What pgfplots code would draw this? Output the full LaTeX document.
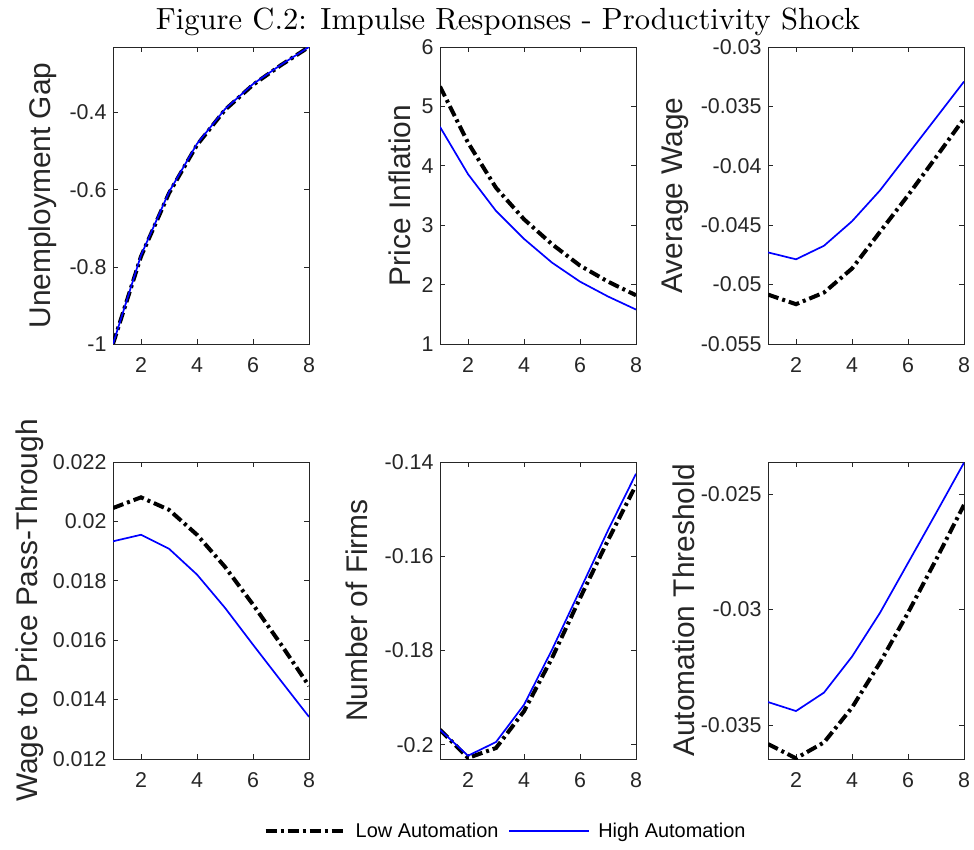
\documentclass[border=0pt]{standalone}
\usepackage{pgfplots}
\pgfplotsset{compat=1.18}
\usepackage{fontspec}
\newfontfamily\arial{Liberation Sans}
\font\titlefont="[lmroman10-regular.otf]" at 30.6bp
\definecolor{axgray}{rgb}{0.15,0.15,0.15}
\newcommand\tickfont{\arial\fontsize{21.5}{21.5}\selectfont}
\newcommand\labfont{\arial\fontsize{30}{30}\selectfont}
\pgfplotsset{
  panel/.style={
    scale only axis, width=196bp, height=297bp,
    xmin=1, xmax=8, xtick={2,4,6,8}, xticklabels={2,4,6,8},
    axis line style={draw=axgray, line width=0.7bp},
    tick style={draw=axgray, line width=0.7bp},
    major tick length=5bp, tick align=inside,
    ticklabel style={font=\tickfont, text=axgray},
    xticklabel style={yshift=-10bp},
    yticklabel style={xshift=-3bp},
    ylabel style={font=\labfont, text=axgray, anchor=center},
    scaled y ticks=false, scaled x ticks=false,
    legend image code/.code={\draw[##1] (0bp,0bp) -- (80bp,0bp);},
  },
  lowa/.style={black, line width=4bp, dash pattern=on 11bp off 4bp on 3bp off 4bp},
  higha/.style={blue, line width=1.7bp},
}
\begin{document}
\begin{tikzpicture}
\useasboundingbox (0,0) rectangle (974bp,-850bp);
\node[anchor=base, inner sep=0pt] at (508bp,-29bp) {\titlefont Figure C.2: Impulse Responses - Productivity Shock};

% Panel 1
\begin{axis}[panel, at={(113bp,-47bp)}, anchor=north west,
  ymin=-1, ymax=-0.23, ytick={-1,-0.8,-0.6,-0.4}, yticklabels={-1,-0.8,-0.6,-0.4},
  ylabel={Unemployment Gap}, ylabel style={at={(axis description cs:-0.357,0.5)}}]
\addplot[lowa] coordinates {(1,-1) (2,-0.773) (3,-0.609) (4,-0.484) (5,-0.393) (6,-0.328) (7,-0.277) (8,-0.23)};
\addplot[higha] coordinates {(1,-1) (2,-0.770) (3,-0.606) (4,-0.481) (5,-0.391) (6,-0.326) (7,-0.276) (8,-0.23)};
\end{axis}

% Panel 2
\begin{axis}[panel, at={(440bp,-47bp)}, anchor=north west,
  ymin=1, ymax=6, ytick={1,2,3,4,5,6}, yticklabels={1,2,3,4,5,6},
  ylabel={Price Inflation}, ylabel style={at={(axis description cs:-0.204,0.5)}}]
\addplot[lowa] coordinates {(1,5.335) (2,4.39) (3,3.63) (4,3.10) (5,2.68) (6,2.32) (7,2.05) (8,1.82)};
\addplot[higha] coordinates {(1,4.655) (2,3.86) (3,3.24) (4,2.77) (5,2.37) (6,2.05) (7,1.80) (8,1.58)};
\end{axis}

% Panel 3
\begin{axis}[panel, at={(768bp,-47bp)}, anchor=north west,
  ymin=-0.055, ymax=-0.03, ytick={-0.055,-0.05,-0.045,-0.04,-0.035,-0.03},
  yticklabels={-0.055,-0.05,-0.045,-0.04,-0.035,-0.03},
  ylabel={Average Wage}, ylabel style={at={(axis description cs:-0.474,0.5)}}]
\addplot[lowa] coordinates {(1,-0.05084) (2,-0.05165) (3,-0.05067) (4,-0.04865) (5,-0.04556) (6,-0.04249) (7,-0.03928) (8,-0.03602)};
\addplot[higha] coordinates {(1,-0.04729) (2,-0.04787) (3,-0.04673) (4,-0.04467) (5,-0.04207) (6,-0.03902) (7,-0.03597) (8,-0.03291)};
\end{axis}

% Panel 4
\begin{axis}[panel, at={(113bp,-462bp)}, anchor=north west,
  ymin=0.012, ymax=0.022, ytick={0.012,0.014,0.016,0.018,0.02,0.022},
  yticklabels={0.012,0.014,0.016,0.018,0.02,0.022},
  ylabel={Wage to Price Pass-Through}, ylabel style={at={(axis description cs:-0.423,0.5)}}]
\addplot[lowa] coordinates {(1,0.02045) (2,0.02081) (3,0.02039) (4,0.01955) (5,0.01847) (6,0.0172) (7,0.01586) (8,0.01446)};
\addplot[higha] coordinates {(1,0.01933) (2,0.01955) (3,0.01908) (4,0.01821) (5,0.01709) (6,0.01585) (7,0.01463) (8,0.01342)};
\end{axis}

% Panel 5
\begin{axis}[panel, at={(440bp,-462bp)}, anchor=north west,
  ymin=-0.20303, ymax=-0.14, ytick={-0.2,-0.18,-0.16,-0.14},
  yticklabels={-0.2,-0.18,-0.16,-0.14},
  ylabel={Number of Firms}, ylabel style={at={(axis description cs:-0.423,0.5)}},
  legend columns=2,
  legend style={draw=none, fill=none, font=\arial\fontsize{20}{20}\selectfont, text=black,
    at={(axis description cs:0.335,-0.242)}, anchor=center,
    /tikz/every odd column/.append style={column sep=6bp},
    /tikz/every even column/.append style={column sep=8bp}}]
\addplot[lowa] coordinates {(1,-0.1968) (2,-0.2028) (3,-0.2007) (4,-0.1929) (5,-0.1816) (6,-0.1689) (7,-0.1566) (8,-0.1449)};
\addlegendentry{Low Automation}
\addplot[higha] coordinates {(1,-0.19683) (2,-0.20233) (3,-0.19943) (4,-0.19153) (5,-0.17985) (6,-0.1672) (7,-0.1545) (8,-0.1425)};
\addlegendentry{High Automation}
\end{axis}

% Panel 6
\begin{axis}[panel, at={(768bp,-462bp)}, anchor=north west,
  ymin=-0.03648, ymax=-0.0236, ytick={-0.035,-0.03,-0.025},
  yticklabels={-0.035,-0.03,-0.025},
  ylabel={Automation Threshold}, ylabel style={at={(axis description cs:-0.43,0.5)}}]
\addplot[lowa] coordinates {(1,-0.03583) (2,-0.03645) (3,-0.03576) (4,-0.03425) (5,-0.0323) (6,-0.03014) (7,-0.02784) (8,-0.02546)};
\addplot[higha] coordinates {(1,-0.03401) (2,-0.0344) (3,-0.0336) (4,-0.03204) (5,-0.03014) (6,-0.02798) (7,-0.02582) (8,-0.02363)};
\end{axis}
\end{tikzpicture}
\end{document}
